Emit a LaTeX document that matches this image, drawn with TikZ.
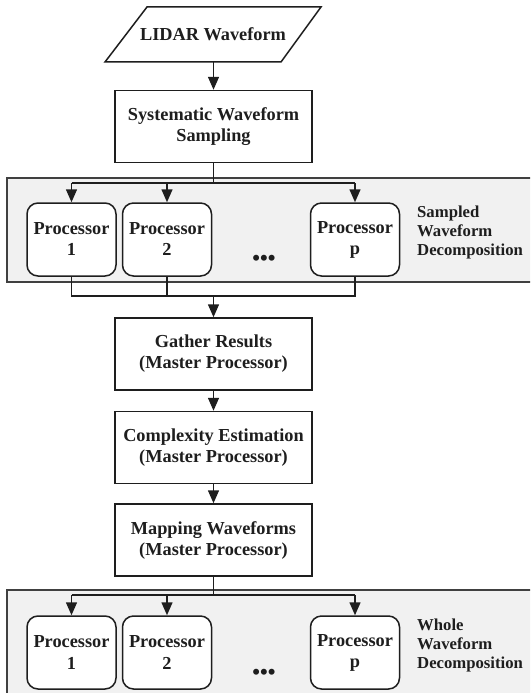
\documentclass[tikz,border=0pt]{standalone}
\usepackage{fontspec}
\setmainfont{Liberation Serif}
\usetikzlibrary{arrows.meta,shapes.misc}
\definecolor{ink}{HTML}{1E1E1E}
\definecolor{panelfill}{HTML}{F1F1F1}
\begin{document}
\begin{tikzpicture}[x=1pt,y=-1pt,
  every node/.style={text=ink},
  line/.style={draw=ink,line width=1.5pt},
  arr/.style={line,-{Triangle[width=11pt,length=13pt]}},
  box/.style={line,rectangle,minimum width=197pt,minimum height=72pt,align=center,
     font=\bfseries\fontsize{18.3pt}{21pt}\selectfont,inner sep=0pt},
  proc/.style={line,fill=white,rounded corners=11pt,minimum width=89pt,minimum height=73pt,
     align=center,font=\bfseries\fontsize{18.3pt}{21pt}\selectfont,inner sep=0pt},
  panel/.style={draw=ink!85,line width=1.3pt,fill=panelfill},
  lbl/.style={anchor=west,align=left,font=\bfseries\fontsize{16.7pt}{19pt}\selectfont,inner sep=0pt},
  dots/.style={font=\bfseries\fontsize{22pt}{21pt}\selectfont,inner sep=0pt}
]
\useasboundingbox (0,0) rectangle (530,693);
\clip (0,0) rectangle (530,693);
\fill[white] (0,0) rectangle (530,693);

% panels
\draw[panel] (7,178) rectangle (545,282);
\draw[panel] (7,590) rectangle (545,710);

% LIDAR waveform parallelogram
\draw[line,line join=miter] (147,7) -- (321,7) -- (281,62) -- (105,62) -- cycle;
\node[font=\bfseries\fontsize{18.3pt}{21pt}\selectfont,inner sep=0pt] (lidar) at (213,34.5) {LIDAR Waveform};
\coordinate (lidarb) at (213.5,62);

% main boxes
\node[box] (sys) at (213.5,126.5) {Systematic Waveform\\Sampling};
\node[box] (gather) at (213.5,354) {Gather Results\\(Master Processor)};
\node[box] (cplx) at (213.5,447.5) {Complexity Estimation\\(Master Processor)};
\node[box] (map) at (213.5,540) {Mapping Waveforms\\(Master Processor)};

% panel 1 processors
\node[proc] (pa1) at (71.5,239.5) {Processor\\1};
\node[proc] (pa2) at (167,239.5) {Processor\\2};
\node[proc] (pap) at (355,239.5) {Processor\\p};
\node[dots] (dotsa) at (264,260) {\textbullet\textbullet\textbullet};
\node[lbl] (lbla) at (417,232) {Sampled\\Waveform\\Decomposition};

% panel 2 processors
\node[proc] (pb1) at (71.5,652.5) {Processor\\1};
\node[proc] (pb2) at (167,652.5) {Processor\\2};
\node[proc] (pbp) at (355,652.5) {Processor\\p};
\node[dots] (dotsb) at (264,674) {\textbullet\textbullet\textbullet};
\node[lbl] (lblb) at (417,645) {Whole\\Waveform\\Decomposition};

% connectors
\draw[arr] (lidarb) -- (sys.north);

\coordinate (ba) at (213.5,183);
\draw[line] (sys.south) -- (ba);
\draw[line] (pa1.north |- ba) -- (pap.north |- ba);
\draw[arr] (pa1.north |- ba) -- (pa1.north);
\draw[arr] (pa2.north |- ba) -- (pa2.north);
\draw[arr] (pap.north |- ba) -- (pap.north);

\coordinate (ja) at (213.5,296);
\draw[line] (pa1.south) -- (pa1.south |- ja) -- (pap.south |- ja) -- (pap.south);
\draw[line] (pa2.south) -- (pa2.south |- ja);
\draw[arr] (ja) -- (gather.north);

\draw[arr] (gather.south) -- (cplx.north);
\draw[arr] (cplx.south) -- (map.north);

\coordinate (bb) at (213.5,595);
\draw[line] (map.south) -- (bb);
\draw[line] (pb1.north |- bb) -- (pbp.north |- bb);
\draw[arr] (pb1.north |- bb) -- (pb1.north);
\draw[arr] (pb2.north |- bb) -- (pb2.north);
\draw[arr] (pbp.north |- bb) -- (pbp.north);
\end{tikzpicture}
\end{document}
